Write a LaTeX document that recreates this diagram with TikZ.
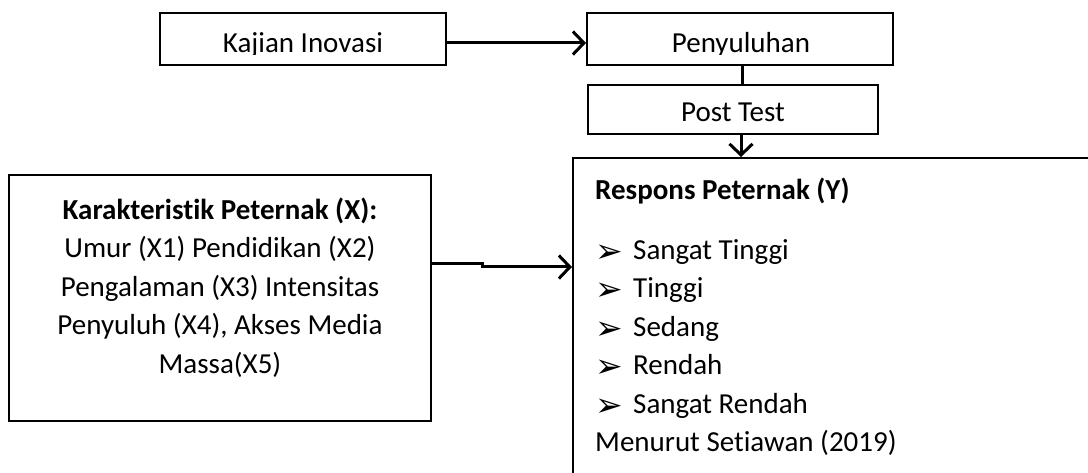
\documentclass[tikz,border=0pt]{standalone}
\usepackage{fontspec}
\setmainfont{Carlito}[Ligatures=NoCommon]
\newfontfamily\symfont{DejaVu Sans}
\usetikzlibrary{arrows.meta}

% bullet used in the response list
\newcommand{\itembullet}{\makebox[38pt][l]{\raisebox{-3pt}{\symfont\fontsize{33}{33}\selectfont ➢}}}

\begin{document}
\begin{tikzpicture}[x=1pt,y=-1pt,
  box/.style={draw, line width=2pt, inner sep=0pt},
  conn/.style={line width=3pt},
  tipped/.style={-{Straight Barb[length=11pt,width=23pt]}},
  txt/.style={inner sep=0pt, font=\fontsize{29}{38.5}\selectfont},
]
\clip (0,0) rectangle (1088,473);

% boxes
\node[box, minimum width=286pt, minimum height=52pt] (kajian) at (303,39) {};
\node[box, minimum width=306pt, minimum height=52pt] (penyuluhan) at (740,39) {};
\node[box, line width=1.5pt, minimum width=290pt, minimum height=49pt] (posttest) at (733,109.5) {};
\node[box, minimum width=422pt, minimum height=246pt] (karak) at (220,298) {};
\node[box, minimum width=527pt, minimum height=332pt] (resp) at (836.5,324) {};

% top row labels, cut off by the inner margin of their boxes
\begin{scope}
  \clip (160,13) rectangle (446,55) (587,13) rectangle (893,55);
  \node[txt, anchor=base] (kajianlabel) at (303,52.5) {Kajian Inovasi};
  \node[txt, anchor=base] (penyuluhanlabel) at (741,52.5) {Penyuluhan};
\end{scope}

\node[txt, anchor=base] (posttestlabel) at (733,122) {Post Test};

\node[txt, anchor=north, align=center] (karaklabel) at (220,192)
  {\strut\textbf{Karakteristik Peternak (X):}\\
   Umur (X1) Pendidikan (X2)\\
   Pengalaman (X3) Intensitas\\
   Penyuluh (X4), Akses Media\\
   Massa(X5)};

\node[txt, anchor=base west] (resptitle) at (595,200) {\textbf{Respons Peternak (Y)}};
\node[txt, anchor=north west, align=left] (resplist) at (595,232)
  {\strut\itembullet Sangat Tinggi\\
   \itembullet Tinggi\\
   \itembullet Sedang\\
   \itembullet Rendah\\
   \itembullet Sangat Rendah\\
   Menurut Setiawan (2019)};

% connectors
\coordinate (rowA) at (0,43);
\coordinate (colA) at (742,0);
\coordinate (colB) at (741,0);
\coordinate (stepA) at (482,264);
\coordinate (stepB) at (482,267);

\draw[conn, tipped] (kajian.east |- rowA) -- (penyuluhan.west |- rowA);
\draw[conn] (penyuluhan.south -| colA) -- (posttest.north -| colA);
\draw[conn, tipped] (posttest.south -| colB) -- (resp.north -| colB);
\draw[conn, tipped] (karak.east |- stepA) -- (stepA) -- (stepB) -- (resp.west |- stepB);
\end{tikzpicture}
\end{document}
